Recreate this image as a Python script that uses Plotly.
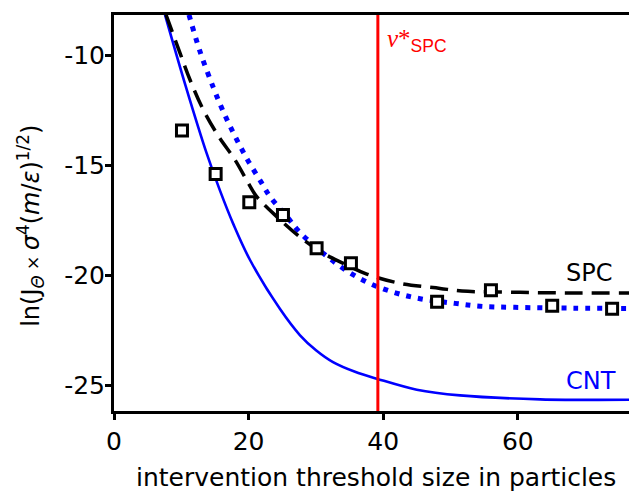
import plotly.graph_objects as go

# ---- data ----
sim_x = [10.1, 15.1, 20.1, 25.1, 30.1, 35.2, 48.0, 56.0, 65.1, 74.0]
sim_y = [-13.43, -15.40, -16.69, -17.27, -18.78, -19.46, -21.21, -20.69, -21.39, -21.53]

cnt_x = [7.58, 10.65, 13.77, 15.75, 17.73, 20.21, 24.67, 27.64, 30.01, 32.54, 35.81, 39.03, 44.98, 51.41, 63.3, 77.7]
cnt_y = [-8.17, -11.41, -14.47, -16.16, -17.68, -19.31, -21.54, -22.73, -23.41, -23.95, -24.39, -24.70, -25.20, -25.46, -25.64, -25.66]

spc_x = [7.73, 9.81, 11.29, 13.27, 15.6, 17.98, 19.96, 21.2, 24.18, 27.89, 31.1, 34.07, 37.55, 42.5, 48.44, 51.7, 60.3, 68.8, 77.7]
spc_y = [-8.17, -9.91, -11.12, -12.49, -13.72, -14.76, -15.82, -16.43, -17.34, -18.33, -19.01, -19.46, -19.95, -20.37, -20.60, -20.72, -20.78, -20.81, -20.81]

fit_x = [11.14, 12.78, 14.75, 16.24, 17.93, 19.81, 21.95, 23.18, 25.9, 27.53, 31.1, 34.58, 38.19, 41.8, 45.47, 50.67, 54.38, 59.58, 68.5, 77.4]
fit_y = [-8.17, -9.84, -11.47, -12.57, -13.66, -14.74, -15.82, -16.43, -17.42, -18.03, -19.01, -19.80, -20.40, -20.80, -21.07, -21.28, -21.41, -21.46, -21.50, -21.51]

nu_star = 39.2
x_ticks = [0, 20, 40, 60]
x_tick_labels = ["0", "20", "40", "60"]
y_ticks = [-10, -15, -20, -25]
y_tick_labels = ["-10", "-15", "-20", "-25"]

FONT = "DejaVu Sans"
FS = 25

fig = go.Figure()
fig.add_trace(go.Scatter(x=cnt_x, y=cnt_y, mode="lines", line=dict(color="#0000ff", width=2.6, shape="spline"),
                         showlegend=False, hoverinfo="skip"))
fig.add_trace(go.Scatter(x=fit_x, y=fit_y, mode="lines", line=dict(color="#0000ff", width=5, dash="5px,7px", shape="spline"),
                         showlegend=False, hoverinfo="skip"))
fig.add_trace(go.Scatter(x=spc_x, y=spc_y, mode="lines", line=dict(color="black", width=3.5, dash="18px,9px", shape="spline"),
                         showlegend=False, hoverinfo="skip"))
fig.add_trace(go.Scatter(x=sim_x, y=sim_y, mode="markers",
                         marker=dict(symbol="square", size=11, color="white", line=dict(color="black", width=3)),
                         showlegend=False, hoverinfo="skip"))

fig.add_shape(type="line", xref="x", yref="paper", x0=nu_star, x1=nu_star, y0=0, y1=1,
              line=dict(color="#ff0000", width=3), layer="above")

fig.add_annotation(xref="x", yref="paper", x=nu_star + 1.1, y=0.935, xanchor="left", yanchor="middle",
                   text="<span style=\"font-family:'Liberation Serif'\"><i>ν</i>*</span><sub>SPC</sub>",
                   showarrow=False, font=dict(family="Liberation Sans", size=25, color="#ff0000"))
fig.add_annotation(xref="x", yref="y", x=70.6, y=-19.9, text="SPC", showarrow=False,
                   font=dict(family=FONT, size=24, color="black"))
fig.add_annotation(xref="x", yref="y", x=70.9, y=-24.82, text="CNT", showarrow=False,
                   font=dict(family=FONT, size=24, color="#0000ff"))

fig.add_annotation(xref="paper", yref="paper", x=-0.161, y=0.467, textangle=-90, showarrow=False,
                   xanchor="center", yanchor="middle",
                   text="ln(J<sub><i>Θ</i></sub><span style=\"font-size:17px\"> × </span><i>σ</i><sup>4</sup>(<i>m</i>/<i>ε</i>)<sup>1/2</sup>)",
                   font=dict(family=FONT, size=24, color="black"))
fig.add_annotation(xref="paper", yref="paper", x=0.5, y=-0.167, showarrow=False,
                   xanchor="center", yanchor="middle",
                   text="intervention threshold size in particles",
                   font=dict(family=FONT, size=FS, color="black"))

# the page body adds an 8px margin; figure is sized so the plot area lands where the reference has it
fig.update_layout(
    width=629, height=485,
    margin=dict(l=106, r=0, t=7, b=82),
    paper_bgcolor="white", plot_bgcolor="white",
    font=dict(family=FONT, size=FS, color="black"),
    xaxis=dict(range=[0, 77.7], tickmode="array", tickvals=x_ticks, ticktext=x_tick_labels,
               ticks="outside", ticklen=6, tickwidth=3, tickcolor="black",
               showline=True, linecolor="black", linewidth=3, mirror=True,
               showgrid=False, zeroline=False, tickfont=dict(family=FONT, size=FS)),
    yaxis=dict(range=[-26.17, -8.18], tickmode="array", tickvals=y_ticks, ticktext=y_tick_labels,
               ticks="outside", ticklen=6, tickwidth=3, tickcolor="black", ticklabelstandoff=-5,
               showline=True, linecolor="black", linewidth=3, mirror=False,
               showgrid=False, zeroline=False, tickfont=dict(family=FONT, size=FS)),
)

fig.write_html("out.html")
